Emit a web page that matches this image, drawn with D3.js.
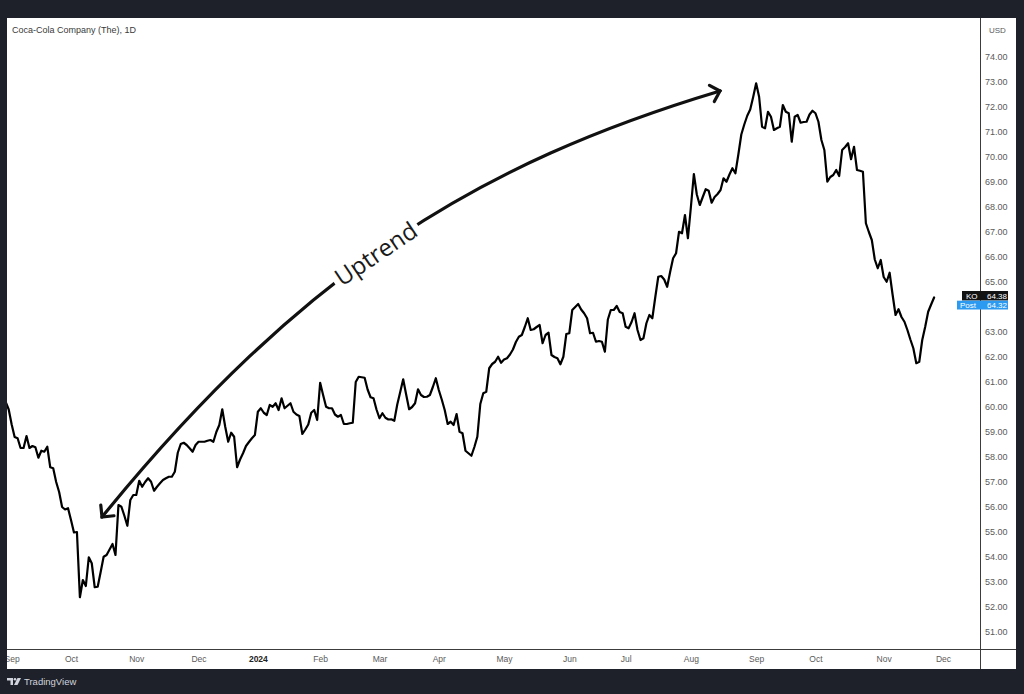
<!DOCTYPE html>
<html><head><meta charset="utf-8">
<script src="https://cdn.jsdelivr.net/npm/d3@7"></script>
<style>html,body{margin:0;padding:0;background:#1e212a;} svg{display:block}</style>
</head><body>
<svg id="c" width="1024" height="694"></svg>
<script>
// ---------- data ----------
const title = "Coca-Cola Company (The), 1D";
const currency = "USD";
const symbol = "KO";
const lastPrice = 64.38;
const postLabel = "Post";
const postPrice = 64.32;
const annotationText = "Uptrend";
const brand = "TradingView";

// trading-day index of the first close (index 0 = first session of Oct 2023)
const firstBar = -22;
const closes = [
  60.2, 59.9, 59.3, 58.8, 58.75, 58.36, 58.36, 58.84, 58.36, 58.44, 58.39, 57.97, 58.25, 58.21, 58.41, 57.59, 57.55, 57.0, 56.6, 56.0, 55.9, 55.95,
  55.48, 54.98, 55.0, 52.39, 53.08, 52.84, 53.99, 53.75, 52.79, 52.81, 53.4, 54.01, 54.08, 54.3, 54.52, 54.08, 56.08, 56.01, 55.65, 55.25,
  56.28, 56.48, 56.48, 57.05, 56.81, 57.0, 57.15, 57.01, 56.65, 56.81, 56.95, 57.08, 57.15, 57.21, 57.21, 57.41, 58.17, 58.52, 58.57, 58.48,
  58.35, 58.21, 58.48, 58.61, 58.61, 58.61, 58.65, 58.68, 58.61, 59.0, 59.28, 59.91, 59.21, 58.61, 58.97, 58.81, 57.59, 57.9, 58.15, 58.44,
  58.6, 58.75, 58.88, 59.81, 59.95, 59.77, 59.68, 60.08, 60.01, 60.15, 59.88, 60.35, 59.95, 60.05, 60.15, 59.81, 59.7, 59.64, 58.92, 59.1,
  59.3, 59.77, 59.88, 59.48, 60.97, 60.48, 60.01, 59.95, 59.95, 59.7, 59.61, 59.68, 59.32, 59.32, 59.35, 59.37, 61.0, 61.21, 61.19, 61.17,
  60.7, 60.39, 60.35, 59.9, 59.55, 59.75, 59.57, 59.5, 59.51, 59.45, 60.1, 60.6, 61.11, 60.5, 59.91, 60.0, 60.15, 60.71, 60.48, 60.4,
  60.41, 60.48, 60.8, 61.15, 60.68, 60.3, 59.88, 59.32, 59.41, 59.28, 59.72, 59.01, 58.95, 58.25, 58.15, 58.05, 58.4, 58.81, 60.12, 60.55,
  60.61, 61.55, 61.72, 61.81, 62.01, 61.77, 61.9, 61.95, 62.1, 62.3, 62.6, 62.81, 62.88, 63.2, 63.55, 63.08, 63.11, 63.2, 63.28, 62.55,
  62.88, 62.97, 62.08, 62.0, 61.95, 61.71, 62.01, 62.92, 62.95, 63.88, 64.0, 64.12, 63.9, 63.75, 63.55, 62.95, 62.97, 62.61, 62.64, 62.61,
  62.21, 63.5, 63.88, 63.88, 64.04, 63.8, 63.75, 63.21, 63.15, 63.4, 63.75, 63.08, 62.68, 62.75, 63.35, 63.68, 63.55, 64.4, 65.21, 65.24,
  65.1, 64.81, 65.4, 65.95, 66.15, 67.01, 66.95, 67.68, 66.75, 68.0, 69.32, 68.5, 68.08, 68.4, 68.71, 68.65, 68.17, 68.4, 68.52, 68.68,
  69.15, 69.01, 69.3, 69.55, 69.35, 70.1, 70.9, 71.3, 71.65, 71.9, 72.4, 72.95, 72.41, 71.21, 71.15, 71.81, 71.61, 71.08, 71.15, 71.21,
  72.08, 71.81, 71.75, 70.61, 71.61, 71.68, 71.37, 71.4, 71.41, 71.7, 71.85, 71.75, 71.41, 70.68, 70.28, 69.01, 69.2, 69.28, 69.48, 69.24,
  70.28, 70.4, 70.55, 69.91, 70.41, 69.48, 69.45, 69.41, 67.35, 67.0, 66.68, 65.9, 65.55, 65.88, 65.2, 65.01, 65.37, 64.5, 63.68, 63.91,
  63.6, 63.41, 63.08, 62.7, 62.35, 61.75, 61.81, 62.68, 63.21, 63.81, 64.1, 64.38
];

const priceTicks = [51,52,53,54,55,56,57,58,59,60,61,62,63,64,65,66,67,68,69,70,71,72,73,74];
const monthTickBars = [-20, 0, 22, 43, 63, 84, 104, 124, 146, 168, 187, 209, 231, 251, 274, 294];
const monthTickLabels = ["Sep","Oct","Nov","Dec","2024","Feb","Mar","Apr","May","Jun","Jul","Aug","Sep","Oct","Nov","Dec"];

// ---------- layout ----------
const W = 1024, H = 694;
const panel = {x0: 7, y0: 18, x1: 1016, y1: 669};
const plot = {x0: 7, y0: 18, x1: 980, y1: 649};
const FONT = "'Liberation Sans', Arial, sans-serif";

const svg = d3.select("#c");
svg.append("rect").attr("width", W).attr("height", H).attr("fill", "#1e212a");
svg.append("rect").attr("x", panel.x0).attr("y", panel.y0)
  .attr("width", panel.x1 - panel.x0).attr("height", panel.y1 - panel.y0).attr("fill", "#ffffff");

const x = d3.scaleLinear().domain([0, 294]).range([71, 943]);
const y = d3.scaleLinear().domain([51, 74]).range([632, 57]);

const defs = svg.append("defs");
defs.append("clipPath").attr("id", "plotClip").append("rect")
  .attr("x", plot.x0).attr("y", plot.y0).attr("width", plot.x1 - plot.x0).attr("height", plot.y1 - plot.y0);
defs.append("clipPath").attr("id", "timeClip").append("rect")
  .attr("x", plot.x0).attr("y", plot.y1).attr("width", plot.x1 - plot.x0).attr("height", panel.y1 - plot.y1);

// separators
svg.append("line").attr("x1", plot.x1 + 0.5).attr("x2", plot.x1 + 0.5)
  .attr("y1", panel.y0).attr("y2", panel.y1).attr("stroke", "#3c3c3c").attr("stroke-width", 1);
svg.append("line").attr("x1", panel.x0).attr("x2", panel.x1)
  .attr("y1", plot.y1 + 0.5).attr("y2", plot.y1 + 0.5).attr("stroke", "#3c3c3c").attr("stroke-width", 1);

// price line
const series = closes.map((c, i) => ({bar: firstBar + i, close: c}));
svg.append("g").attr("clip-path", "url(#plotClip)")
  .append("path").datum(series)
  .attr("fill", "none").attr("stroke", "#000").attr("stroke-width", 2.2)
  .attr("stroke-linejoin", "round").attr("stroke-linecap", "round")
  .attr("d", d3.line().x(d => x(d.bar)).y(d => y(d.close)));

// right price axis
const lastY = y(lastPrice);
const visibleTicks = priceTicks.filter(v => Math.abs(y(v) - (lastY + 5)) > 9);
const yAxis = svg.append("g").attr("transform", `translate(${plot.x1},0)`)
  .call(d3.axisRight(y).tickValues(visibleTicks).tickSize(0).tickPadding(5).tickFormat(d => d.toFixed(2)));
yAxis.select(".domain").remove();
yAxis.selectAll("text").attr("font-family", FONT).attr("font-size", 9).attr("fill", "#5a5a5a");

svg.append("text").attr("x", 989).attr("y", 33).text(currency)
  .attr("font-family", FONT).attr("font-size", 8).attr("fill", "#5a5a5a");

// bottom time axis
const xAxis = svg.append("g").attr("clip-path", "url(#timeClip)")
  .append("g").attr("transform", `translate(0,${plot.y1})`)
  .call(d3.axisBottom(x).tickValues(monthTickBars).tickSize(0).tickPadding(7)
    .tickFormat((d, i) => monthTickLabels[i]));
xAxis.select(".domain").remove();
xAxis.selectAll("text").attr("font-family", FONT).attr("font-size", 8.5)
  .attr("fill", (d, i) => monthTickLabels[i] === "2024" ? "#222" : "#5a5a5a")
  .attr("font-weight", (d, i) => monthTickLabels[i] === "2024" ? "bold" : "normal");

// title
svg.append("text").attr("x", 12).attr("y", 33).text(title)
  .attr("font-family", FONT).attr("font-size", 9).attr("fill", "#3a3a3a");

// last price labels
const boxR = 1008;
svg.append("rect").attr("x", 962).attr("y", lastY - 6.5).attr("width", boxR - 962).attr("height", 9.5).attr("fill", "#131313");
svg.append("text").attr("x", 966).attr("y", lastY + 1.5).text(symbol)
  .attr("font-family", FONT).attr("font-size", 8).attr("fill", "#fff");
svg.append("text").attr("x", 987).attr("y", lastY + 1.5).text(lastPrice.toFixed(2))
  .attr("font-family", FONT).attr("font-size", 8).attr("fill", "#fff");
svg.append("rect").attr("x", 957).attr("y", lastY + 3.2).attr("width", boxR - 957).attr("height", 8.8).attr("fill", "#2c9af0");
svg.append("text").attr("x", 960).attr("y", lastY + 10.6).text(postLabel)
  .attr("font-family", FONT).attr("font-size", 8).attr("fill", "#fff");
svg.append("text").attr("x", 987).attr("y", lastY + 10.6).text(postPrice.toFixed(2))
  .attr("font-family", FONT).attr("font-size", 8).attr("fill", "#fff");

// annotation arrow
const P0 = [102, 517], C1 = [304, 269], C2 = [480, 163], P3 = [720, 91];
const ann = svg.append("g");
ann.append("path")
  .attr("d", `M${P0}C${C1} ${C2} ${P3}`)
  .attr("fill", "none").attr("stroke", "#111").attr("stroke-width", 3.2).attr("stroke-linecap", "round");
function head(tip, from, len) {
  const a = Math.atan2(from[1] - tip[1], from[0] - tip[0]);
  const pts = [a - Math.PI / 4, a + Math.PI / 4].map(t => [tip[0] + len * Math.cos(t), tip[1] + len * Math.sin(t)]);
  ann.append("path").attr("d", `M${pts[0]}L${tip}L${pts[1]}`)
    .attr("fill", "none").attr("stroke", "#111").attr("stroke-width", 3.2)
    .attr("stroke-linecap", "round").attr("stroke-linejoin", "miter");
}
head(P0, C1, 12);
head(P3, C2, 12);
const label = ann.append("g").attr("transform", "translate(376,254) rotate(-34)");
const gap = label.append("rect").attr("fill", "#fff");
const lt = label.append("text")
  .attr("text-anchor", "middle").attr("dy", "0.35em").text(annotationText)
  .attr("font-family", "'Open Sans', sans-serif").attr("font-size", 24).attr("fill", "#1a1a1a");
const tw = lt.node().getComputedTextLength();
gap.attr("x", -tw / 2 - 4).attr("y", -8).attr("width", tw + 8).attr("height", 16);

// brand footer
const logo = svg.append("g").attr("transform", "translate(7,678)").attr("fill", "#d1d4dc");
logo.append("path").attr("d", "M0,0H6V7H3.5V2.4H0Z");
logo.append("circle").attr("cx", 8).attr("cy", 1.3).attr("r", 1.3);
logo.append("path").attr("d", "M10.5,0H14L10.5,7H7Z");
svg.append("text").attr("x", 24).attr("y", 685).text(brand)
  .attr("font-family", FONT).attr("font-size", 9.5).attr("fill", "#d1d4dc");
</script>
</body></html>
